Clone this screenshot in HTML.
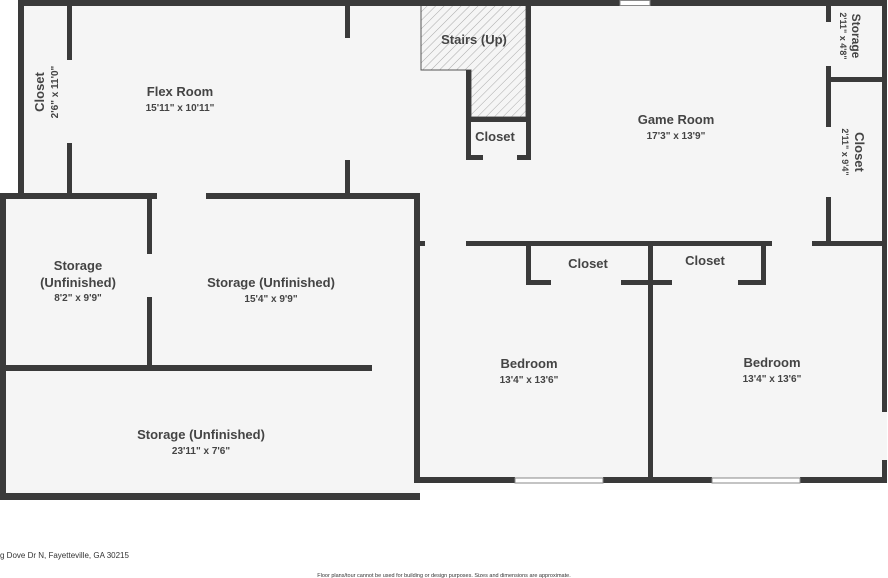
<!DOCTYPE html>
<html><head><meta charset="utf-8"><style>
html,body{margin:0;padding:0;background:#fff;}
svg{display:block;}
text{font-family:"Liberation Sans",sans-serif;fill:#444;text-anchor:middle;}
.t{font-size:13px;font-weight:bold;}
.d{font-size:10px;font-weight:bold;}
.s{font-size:12px;font-weight:bold;}
.sd{font-size:9px;font-weight:bold;}
</style></head><body>
<svg width="888" height="578" viewBox="0 0 888 578" xmlns="http://www.w3.org/2000/svg">
<defs>
<pattern id="h" width="6" height="6" patternUnits="userSpaceOnUse" patternTransform="rotate(45)">
<rect width="6" height="6" fill="#f5f5f5"/><line x1="0" y1="0" x2="0" y2="6" stroke="#aaa" stroke-width="1"/>
</pattern>
</defs>
<rect x="18" y="0" width="869" height="246" fill="#f5f5f5"/>
<rect x="0" y="193" width="420" height="307" fill="#f5f5f5"/>
<rect x="414" y="240" width="473" height="243" fill="#f5f5f5"/>
<polygon points="421,5 526,5 526,117 471,117 471,70 421,70" fill="url(#h)" stroke="#555" stroke-width="1"/>
<g fill="#3a3a3a">
<rect x="18" y="0" width="869" height="6"/>
<rect x="18" y="0" width="6" height="199"/>
<rect x="67" y="5" width="5" height="55"/>
<rect x="67" y="143" width="5" height="52"/>
<rect x="345" y="5" width="5" height="33"/>
<rect x="345" y="160" width="5" height="35"/>
<rect x="0" y="193" width="157" height="6"/>
<rect x="206" y="193" width="214" height="6"/>
<rect x="466" y="70" width="5" height="90"/>
<rect x="526" y="0" width="5" height="160"/>
<rect x="466" y="117" width="65" height="5"/>
<rect x="466" y="155" width="17" height="5"/>
<rect x="517" y="155" width="14" height="5"/>
<rect x="826" y="0" width="5" height="22"/>
<rect x="826" y="66" width="5" height="61"/>
<rect x="826" y="197" width="5" height="46"/>
<rect x="826" y="77" width="61" height="5"/>
<rect x="882" y="0" width="5" height="412"/>
<rect x="882" y="460" width="5" height="23"/>
<rect x="414" y="193" width="6" height="290"/>
<rect x="414" y="241" width="11" height="5"/>
<rect x="466" y="241" width="306" height="5"/>
<rect x="812" y="241" width="75" height="5"/>
<rect x="526" y="241" width="5" height="44"/>
<rect x="526" y="280" width="25" height="5"/>
<rect x="621" y="280" width="51" height="5"/>
<rect x="738" y="280" width="28" height="5"/>
<rect x="761" y="241" width="5" height="44"/>
<rect x="648" y="241" width="5" height="240"/>
<rect x="414" y="477" width="101" height="6"/>
<rect x="603" y="477" width="109" height="6"/>
<rect x="800" y="477" width="87" height="6"/>
<rect x="0" y="193" width="6" height="307"/>
<rect x="0" y="493" width="420" height="7"/>
<rect x="147" y="193" width="5" height="61"/>
<rect x="147" y="297" width="5" height="71"/>
<rect x="0" y="365" width="372" height="6"/>
</g>
<g fill="#fff" stroke="#888" stroke-width="1">
<rect x="620" y="0.5" width="30" height="5"/>
<rect x="515" y="478" width="88" height="5"/>
<rect x="712" y="478" width="88" height="5"/>
</g>
<text class="t" x="474" y="44">Stairs (Up)</text>
<text class="t" x="495" y="141">Closet</text>
<text class="t" x="180" y="96">Flex Room</text>
<text class="d" x="180" y="111">15'11" x 10'11"</text>
<text class="t" transform="translate(44,92) rotate(-90)">Closet</text>
<text class="d" transform="translate(58,92) rotate(-90)">2'6" x 11'0"</text>
<text class="t" x="676" y="124">Game Room</text>
<text class="d" x="676" y="139">17'3" x 13'9"</text>
<text class="s" transform="translate(852,36) rotate(90)">Storage</text>
<text class="sd" transform="translate(840,36) rotate(90)">2'11" x 4'8"</text>
<text class="t" transform="translate(855,152) rotate(90)">Closet</text>
<text class="sd" transform="translate(842,152) rotate(90)">2'11" x 9'4"</text>
<text class="t" x="78" y="270">Storage</text>
<text class="t" x="78" y="287">(Unfinished)</text>
<text class="d" x="78" y="301">8'2" x 9'9"</text>
<text class="t" x="271" y="287">Storage (Unfinished)</text>
<text class="d" x="271" y="302">15'4" x 9'9"</text>
<text class="t" x="201" y="439">Storage (Unfinished)</text>
<text class="d" x="201" y="454">23'11" x 7'6"</text>
<text class="t" x="588" y="268">Closet</text>
<text class="t" x="705" y="265">Closet</text>
<text class="t" x="529" y="368">Bedroom</text>
<text class="d" x="529" y="383">13'4" x 13'6"</text>
<text class="t" x="772" y="367">Bedroom</text>
<text class="d" x="772" y="382">13'4" x 13'6"</text>
<text x="0" y="558" style="text-anchor:start;font-size:8px;fill:#333">g Dove Dr N, Fayetteville, GA 30215</text>
<text x="444" y="577" style="font-size:5.5px;fill:#333">Floor plans/tour cannot be used for building or design purposes. Sizes and dimensions are approximate.</text>
</svg>
</body></html>
